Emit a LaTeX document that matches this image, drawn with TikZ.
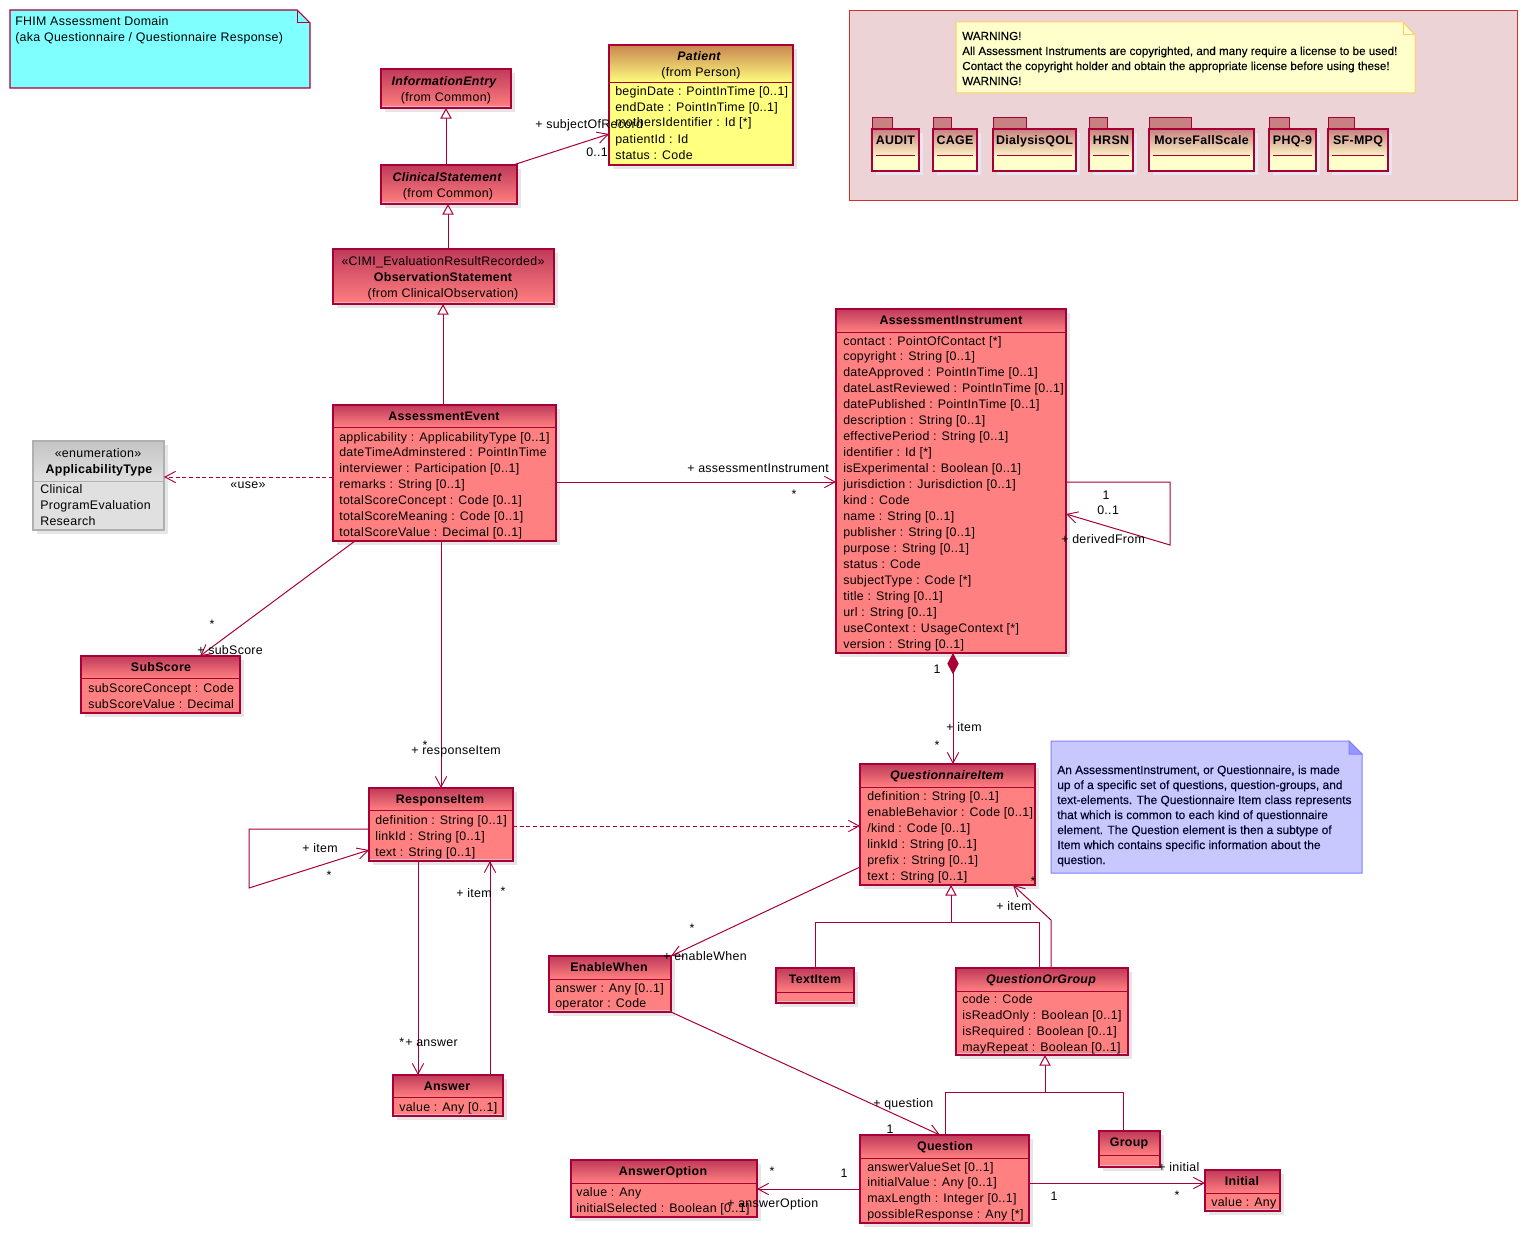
\documentclass[tikz,border=0pt]{standalone}
\usepackage{fontspec}
\setmainfont[LetterSpace=2.5]{Liberation Sans}
\newfontfamily\notefont[FakeBold=0.12]{Liberation Sans}
\usetikzlibrary{arrows.meta,fit,calc}
\definecolor{umlline}{HTML}{A80036}
\definecolor{headtop}{HTML}{C03A5A}
\definecolor{bodyred}{HTML}{FF8080}
\definecolor{bodyyel}{HTML}{FFFF80}
\definecolor{pattop}{HTML}{C8864F}
\definecolor{greytop}{HTML}{C4C4C4}
\definecolor{greybody}{HTML}{E0E0E0}
\definecolor{greyline}{HTML}{B0B0B0}
\definecolor{shadowc}{HTML}{E6E6E6}
\definecolor{pkgfill}{HTML}{ECD4D6}
\definecolor{pkgline}{HTML}{D03030}
\definecolor{warnfill}{HTML}{FFFFCC}
\definecolor{warnline}{HTML}{FFCC66}
\definecolor{bluefill}{HTML}{C8C8FF}
\definecolor{blueline}{HTML}{8080FF}
\definecolor{cyanfill}{HTML}{80FFFF}
\definecolor{tabfill}{HTML}{C88080}
\definecolor{lowc}{HTML}{E8B8CC}
\definecolor{foldshadow}{HTML}{E8E4F0}
\tikzset{
  x=0.75pt,y=-0.75pt,
  lab/.style={font=\fontsize{9.3}{12}\selectfont,inner sep=0pt,text=black},
  attr/.style={lab,anchor=base west},
  boldt/.style={lab,font=\fontsize{9.3}{12}\selectfont\bfseries,anchor=base},
  italt/.style={lab,font=\fontsize{9.3}{12}\selectfont\bfseries\itshape,anchor=base},
  plaint/.style={lab,anchor=base},
  warntxt/.style={inner sep=0pt,anchor=base west,font=\notefont\fontsize{8.75}{11}\selectfont,text=black},
  bluetxt/.style={inner sep=0pt,anchor=base west,font=\notefont\fontsize{8.95}{11}\selectfont,text=black!85!blue},
  boxframe/.style={inner sep=0pt,outer sep=0pt},
  conn/.style={draw=umlline,line width=0.75pt},
  assoc/.style={conn,-{Straight Barb[length=8pt,width=8.5pt,line width=0.7pt]}},
  dep/.style={assoc,densely dashed},
  inh/.style={conn,-{Triangle[open,fill=white,length=8pt,width=8.5pt]}},
  comp/.style={conn,{Diamond[length=16pt,width=8.5pt,fill=umlline]}-{Straight Barb[length=8pt,width=8.5pt,line width=0.7pt]}},
}
% name x1 y1 x2 y2 ysep headtop bodyfill frame
\newcommand\umlbox[9]{%
  \fill[shadowc] (#2+4,#3+4) rectangle (#4+4,#5+4);
  \fill[#8] (#2,#6) rectangle (#4,#5);
  \shade[top color=#7,bottom color=#8] (#2,#3) rectangle (#4,#6);
  \draw[#9,line width=0.75pt] (#2,#6) -- (#4,#6);
  \node[fit={(#2,#3) (#4,#5)},boxframe,draw=#9,line width=0.8pt] (#1) {};
}
\newcommand\redbox[6]{\umlbox{#1}{#2}{#3}{#4}{#5}{#6}{headtop}{bodyred}{umlline}}
\newcommand\lowline[3]{\draw[lowc,line width=0.75pt] (#1+1,#3-2) -- (#2-1,#3-2);}
\newcommand\attrs[5][16]{%
  \foreach \t [count=\i from 0] in {#5}{%
    \node[attr] (#2-a\i) at (#3,#4+4+#1*\i) {\t};
  }%
}
\newcommand\folder[6]{% name x1 tabx x2 text
  \fill[foldshadow] (#2+4,129+4) rectangle (#4+4,171+4);
  \fill[tabfill] (#2,117) rectangle (#3,129);
  \draw[umlline,line width=0.75pt] (#2,129) -- (#2,117) -- (#3,117) -- (#3,129);
  \fill[warnfill] (#2,129) rectangle (#4,171);
  \shade[top color=tabfill,bottom color=warnfill] (#2,129) rectangle (#4,158);
  \node[fit={(#2,129) (#4,171)},boxframe,draw=umlline,line width=0.8pt] (#1) {};
  \node[boldt] (#1-t) at (#1.north |- 0,144) {#5};
  \draw[umlline,line width=0.75pt] (#2+4,155) -- (#4-4,155);
}
\begin{document}
\begin{tikzpicture}
\useasboundingbox (0,0) rectangle (1527,1238);
\fill[white] (0,0) rectangle (1527,1238);

% notes and package
\draw[umlline,line width=0.8pt,fill=cyanfill] (10,10) -- (297,10) -- (310,23) -- (310,88) -- (10,88) -- cycle;
\draw[umlline,line width=0.75pt] (297,10) -- (297,23) -- (310,23);
\node[attr] (fhim1) at (15,26) {FHIM Assessment Domain};
\node[attr] (fhim2) at (15,42) {(aka Questionnaire / Questionnaire Response)};

\draw[pkgline,line width=0.75pt,fill=pkgfill] (849,11) rectangle (1517,200);
\draw[warnline,line width=0.75pt,fill=warnfill] (956,22) -- (1403,22) -- (1415,35) -- (1415,93) -- (956,93) -- cycle;
\draw[warnline,line width=0.75pt] (1403,22) -- (1403,35) -- (1415,35);
\foreach \t [count=\i from 0] in {WARNING!,All Assessment Instruments are copyrighted{,} and many require a license to be used!,Contact the copyright holder and obtain the appropriate license before using these!,WARNING!}{
  \node[warntxt] (warn\i) at (962,40+15*\i) {\t};
}
\folder{audit}{872}{892}{919}{AUDIT}{}
\folder{cage}{933}{951}{977}{CAGE}{}
\folder{dial}{993}{1026}{1076}{DialysisQOL}{}
\folder{hrsn}{1089}{1107}{1133}{HRSN}{}
\folder{morse}{1149}{1191}{1254}{MorseFallScale}{}
\folder{phq}{1269}{1289}{1316}{PHQ-9}{}
\folder{sfmpq}{1328}{1354}{1388}{SF-MPQ}{}

\draw[blueline,line width=0.75pt,fill=bluefill] (1051,741) -- (1349,741) -- (1362,754) -- (1362,873) -- (1051,873) -- cycle;
\draw[blueline,line width=0.75pt,fill=blueline!70!bluefill] (1349,741) -- (1349,754) -- (1362,754) -- cycle;
\foreach \t [count=\i from 0] in {An AssessmentInstrument{,} or Questionnaire{,} is made,up of a specific set of questions{,} question-groups{,} and,text-elements. The Questionnaire Item class represents,that which is common to each kind of questionnaire,element. The Question element is then a subtype of,Item which contains specific information about the,question.}{
  \node[bluetxt] (bn\i) at (1057,774+15*\i) {\t};
}

% classes
\redbox{infoe}{381}{69}{511}{108}{108}\lowline{381}{511}{108}
\node[italt] (infoe-t) at (444,85) {InformationEntry};
\node[plaint] (infoe-f) at (446,101) {(from Common)};

\redbox{clin}{381}{165}{517}{204}{204}\lowline{381}{517}{204}
\node[italt] (clin-t) at (447,181) {ClinicalStatement};
\node[plaint] (clin-f) at (448,197) {(from Common)};

\redbox{obs}{333}{249}{554}{304}{304}\lowline{333}{554}{304}
\node[plaint] (obs-s) at (443,265) {«CIMI\_EvaluationResultRecorded»};
\node[boldt] (obs-t) at (443,281) {ObservationStatement};
\node[plaint] (obs-f) at (443,297) {(from ClinicalObservation)};

\umlbox{pat}{609}{45}{793}{165}{83}{pattop}{bodyyel}{umlline}
\node[italt] (pat-t) at (699,61) {Patient};
\node[plaint] (pat-f) at (701,77) {(from Person)};

\redbox{ae}{333}{405}{556}{541}{427}
\node[boldt] (ae-t) at (444,420) {AssessmentEvent};

\umlbox{app}{33}{441}{164}{530}{481}{greytop}{greybody}{greyline}
\node[plaint] (app-s) at (98,457) {«enumeration»};
\node[boldt] (app-t) at (99,473) {ApplicabilityType};

\redbox{ai}{836}{309}{1066}{653}{332}
\node[boldt] (ai-t) at (951,324) {AssessmentInstrument};

\redbox{sub}{81}{656}{240}{713}{678}
\node[boldt] (sub-t) at (161,671) {SubScore};

\redbox{ri}{369}{788}{513}{861}{810}\lowline{369}{513}{861}
\node[boldt] (ri-t) at (440,803) {ResponseItem};

\redbox{qi}{860}{764}{1035}{885}{787}
\node[italt] (qi-t) at (947,779) {QuestionnaireItem};

\redbox{ti}{776}{968}{854}{1003}{992}\lowline{776}{854}{1003}
\node[boldt] (ti-t) at (815,983) {TextItem};

\redbox{qog}{956}{968}{1128}{1055}{991}\lowline{956}{1128}{1055}
\node[italt] (qog-t) at (1041,983) {QuestionOrGroup};

\redbox{ew}{549}{956}{671}{1012}{979}\lowline{549}{671}{1012}
\node[boldt] (ew-t) at (609,971) {EnableWhen};

\redbox{ans}{393}{1075}{503}{1116}{1097}\lowline{393}{503}{1116}
\node[boldt] (ans-t) at (447,1090) {Answer};

\redbox{q}{860}{1135}{1029}{1223}{1158}
\node[boldt] (q-t) at (945,1150) {Question};

\redbox{grp}{1099}{1131}{1160}{1167}{1155}\lowline{1099}{1160}{1167}
\node[boldt] (grp-t) at (1129,1146) {Group};

\redbox{aop}{571}{1160}{757}{1217}{1183}
\node[boldt] (aop-t) at (663,1175) {AnswerOption};

\redbox{ini}{1205}{1170}{1280}{1211}{1193}\lowline{1205}{1280}{1211}
\node[boldt] (ini-t) at (1242,1185) {Initial};

% connectors
\draw[inh] (446,0 |- clin.north) -- (446,0 |- infoe.south);
\draw[inh] (448,0 |- obs.north) -- (448,0 |- clin.south);
\draw[inh] (443,0 |- ae.north) -- (443,0 |- obs.south);
\draw[assoc] (513,0 |- clin.north) -- (pat.west |- 0,134);
\draw[dep] (ae.west |- 0,477) -- (app.east |- 0,477);
\draw[assoc] (355,0 |- ae.south) -- (200,0 |- sub.north);
\draw[assoc] (ae.east |- 0,482) -- (ai.west |- 0,482);
\draw[assoc] (441,0 |- ae.south) -- (441,0 |- ri.north);
\draw[assoc] (ai.east |- 0,482) -- (1170,482) -- (1170,545) -- (ai.east |- 0,514);
\draw[comp] (953,0 |- ai.south) -- (953,0 |- qi.north);
\draw[dep] (ri.east |- 0,826) -- (qi.west |- 0,826);
\draw[assoc] (ri.west |- 0,829) -- (249,829) -- (249,888) -- (ri.west |- 0,850);
\draw[assoc] (418,0 |- ri.south) -- (418,0 |- ans.north);
\draw[assoc] (490,0 |- ans.north) -- (490,0 |- ri.south);
\draw[assoc] (qi.west |- 0,867) -- (671,0 |- ew.north);
\draw[assoc] (ew.east |- 0,1012) -- (940,0 |- q.north);
\draw[conn] (815,0 |- ti.north) -- (815,922) -- (951,922);
\draw[conn] (1039,0 |- qog.north) -- (1039,922) -- (951,922);
\draw[inh] (951,922) -- (951,0 |- qi.south);
\draw[assoc] (1051,0 |- qog.north) -- (1051,920) -- (1013,0 |- qi.south);
\draw[conn] (945,0 |- q.north) -- (945,1092) -- (1045,1092);
\draw[conn] (1123,0 |- grp.north) -- (1123,1092) -- (1045,1092);
\draw[inh] (1045,1092) -- (1045,0 |- qog.south);
\draw[assoc] (q.west |- 0,1189) -- (aop.east |- 0,1189);
\draw[assoc] (q.east |- 0,1183) -- (ini.west |- 0,1183);

% attributes
\attrs{pat}{615}{91}{beginDate : PointInTime [0..1],endDate : PointInTime [0..1],mothersIdentifier : Id [*],patientId : Id,status : Code}
\attrs[15.85]{ae}{339}{437}{applicability : ApplicabilityType [0..1],dateTimeAdminstered : PointInTime,interviewer : Participation [0..1],remarks : String [0..1],totalScoreConcept : Code [0..1],totalScoreMeaning : Code [0..1],totalScoreValue : Decimal [0..1]}
\attrs{app}{40}{489}{Clinical,ProgramEvaluation,Research}
\attrs[15.95]{ai}{843}{341}{contact : PointOfContact [*],copyright : String [0..1],dateApproved : PointInTime [0..1],dateLastReviewed : PointInTime [0..1],datePublished : PointInTime [0..1],description : String [0..1],effectivePeriod : String [0..1],identifier : Id [*],isExperimental : Boolean [0..1],jurisdiction : Jurisdiction [0..1],kind : Code,name : String [0..1],publisher : String [0..1],purpose : String [0..1],status : Code,subjectType : Code [*],title : String [0..1],url : String [0..1],useContext : UsageContext [*],version : String [0..1]}
\attrs{sub}{88}{688}{subScoreConcept : Code,subScoreValue : Decimal}
\attrs{ri}{375}{820}{definition : String [0..1],linkId : String [0..1],text : String [0..1]}
\attrs{qi}{867}{796}{definition : String [0..1],enableBehavior : Code [0..1],/kind : Code [0..1],linkId : String [0..1],prefix : String [0..1],text : String [0..1]}
\attrs{qog}{962}{999}{code : Code,isReadOnly : Boolean [0..1],isRequired : Boolean [0..1],mayRepeat : Boolean [0..1]}
\attrs[15.5]{ew}{555}{988}{answer : Any [0..1],operator : Code}
\attrs{ans}{399}{1107}{value : Any [0..1]}
\attrs[15.75]{q}{867}{1167}{answerValueSet [0..1],initialValue : Any [0..1],maxLength : Integer [0..1],possibleResponse : Any [*]}
\attrs{aop}{576}{1192}{value : Any,initialSelected : Boolean [0..1]}
\attrs{ini}{1211}{1202}{value : Any}

% connector labels
\node[attr] (l01) at (535,128) {+ subjectOfRecord};
\node[attr] (l02) at (586,156) {0..1};
\node[plaint] (l03) at (248,488) {«use»};
\node[plaint] (l04) at (212,628) {*};
\node[attr] (l05) at (197,654) {+ subScore};
\node[attr] (l06) at (687,472) {+ assessmentInstrument};
\node[plaint] (l07) at (794,498) {*};
\node[attr] (l08) at (411,754) {+ responseItem};
\node[plaint] (l09) at (425,749) {*};
\node[plaint] (l10) at (1106,499) {1};
\node[attr] (l11) at (1097,514) {0..1};
\node[attr] (l12) at (1061,543) {+ derivedFrom};
\node[plaint] (l13) at (937,673) {1};
\node[attr] (l14) at (946,731) {+ item};
\node[plaint] (l15) at (937,749) {*};
\node[attr] (l16) at (302,852) {+ item};
\node[plaint] (l17) at (329,879) {*};
\node[attr] (l18) at (399,1046) {*};
\node[attr] (l19) at (405,1046) {+ answer};
\node[attr] (l20) at (456,897) {+ item};
\node[plaint] (l21) at (503,895) {*};
\node[plaint] (l22) at (692,932) {*};
\node[attr] (l23) at (663,960) {+ enableWhen};
\node[attr] (l24) at (873,1107) {+ question};
\node[plaint] (l25) at (890,1133) {1};
\node[attr] (l26) at (996,910) {+ item};
\node[plaint] (l27) at (1033,885) {*};
\node[plaint] (l28) at (844,1177) {1};
\node[plaint] (l29) at (772,1175) {*};
\node[attr] (l30) at (727,1207) {+ answerOption};
\node[plaint] (l31) at (1054,1200) {1};
\node[plaint] (l32) at (1177,1199) {*};
\node[attr] (l33) at (1158,1171) {+ initial};
\end{tikzpicture}
\end{document}
